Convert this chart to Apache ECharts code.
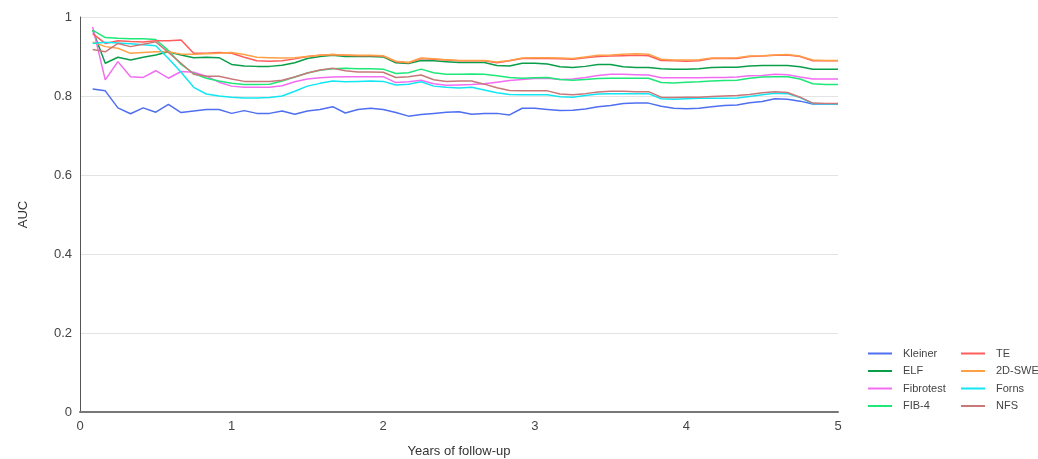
<!DOCTYPE html>
<html><head><meta charset="utf-8">
<script src="https://cdn.jsdelivr.net/npm/echarts@6/dist/echarts.min.js"></script>
<style>html,body{margin:0;padding:0;background:#fff}#c{width:1038px;height:459px}</style>
</head><body><div id="c"></div>
<script>
const months = [1,2,3,4,5,6,7,8,9,10,11,12,13,14,15,16,17,18,19,20,21,22,23,24,25,26,27,28,29,30,
31,32,33,34,35,36,37,38,39,40,41,42,43,44,45,46,47,48,49,50,51,52,53,54,55,56,57,58,59,60];
const xTicks = [0,1,2,3,4,5];
const yTicks = [0,0.2,0.4,0.6,0.8,1];

const kleiner = [0.818,0.813,0.770,0.755,0.770,0.759,0.779,0.758,0.762,0.766,
 0.766,0.756,0.763,0.756,0.756,0.762,0.754,0.762,0.766,0.773,
 0.757,0.766,0.769,0.766,0.758,0.749,0.753,0.756,0.759,0.760,
 0.754,0.756,0.756,0.752,0.769,0.769,0.766,0.763,0.764,0.767,
 0.773,0.776,0.781,0.782,0.782,0.774,0.769,0.768,0.769,0.773,
 0.776,0.777,0.783,0.786,0.793,0.792,0.787,0.780,0.780,0.780];
const elf = [0.967,0.883,0.898,0.891,0.898,0.904,0.912,0.904,0.897,0.898,
 0.897,0.880,0.876,0.875,0.875,0.878,0.884,0.895,0.900,0.903,
 0.900,0.900,0.900,0.899,0.884,0.882,0.890,0.889,0.887,0.885,
 0.885,0.885,0.877,0.876,0.883,0.883,0.881,0.874,0.872,0.875,
 0.880,0.880,0.874,0.872,0.872,0.869,0.868,0.868,0.869,0.872,
 0.873,0.873,0.876,0.877,0.877,0.877,0.874,0.868,0.868,0.868];
const fibrotest = [0.975,0.841,0.887,0.849,0.847,0.864,0.845,0.862,0.860,0.850,
 0.835,0.825,0.822,0.822,0.822,0.826,0.836,0.843,0.846,0.848,
 0.849,0.849,0.849,0.849,0.834,0.836,0.840,0.831,0.827,0.828,
 0.829,0.831,0.835,0.839,0.842,0.844,0.845,0.842,0.843,0.847,
 0.852,0.855,0.855,0.854,0.853,0.846,0.846,0.846,0.846,0.847,
 0.847,0.848,0.851,0.852,0.855,0.854,0.848,0.843,0.843,0.843];
const fib4 = [0.967,0.948,0.946,0.945,0.945,0.943,0.915,0.880,0.857,0.845,
 0.838,0.832,0.829,0.829,0.830,0.838,0.848,0.858,0.865,0.869,
 0.870,0.869,0.869,0.868,0.857,0.859,0.868,0.859,0.855,0.855,
 0.856,0.855,0.851,0.847,0.845,0.846,0.847,0.842,0.840,0.842,
 0.844,0.845,0.845,0.845,0.845,0.834,0.833,0.835,0.836,0.838,
 0.839,0.840,0.845,0.848,0.849,0.849,0.843,0.831,0.829,0.829];
const te = [0.958,0.933,0.940,0.938,0.937,0.940,0.940,0.942,0.908,0.908,
 0.910,0.908,0.898,0.889,0.888,0.889,0.894,0.900,0.903,0.905,
 0.903,0.902,0.902,0.901,0.887,0.884,0.895,0.893,0.891,0.889,
 0.889,0.889,0.884,0.889,0.895,0.895,0.895,0.894,0.893,0.897,
 0.900,0.901,0.902,0.903,0.902,0.890,0.889,0.888,0.889,0.895,
 0.895,0.895,0.900,0.901,0.903,0.904,0.900,0.889,0.889,0.889];
const swe2d = [0.937,0.925,0.921,0.908,0.910,0.912,0.912,0.906,0.906,0.907,
 0.908,0.910,0.905,0.898,0.897,0.896,0.897,0.900,0.903,0.905,
 0.904,0.903,0.903,0.902,0.888,0.885,0.896,0.894,0.892,0.890,
 0.890,0.890,0.886,0.890,0.896,0.897,0.897,0.896,0.895,0.899,
 0.903,0.904,0.906,0.907,0.906,0.893,0.891,0.891,0.892,0.896,
 0.896,0.897,0.901,0.902,0.904,0.905,0.901,0.891,0.890,0.890];
const forns = [0.933,0.936,0.934,0.932,0.930,0.927,0.895,0.860,0.822,0.805,
 0.800,0.797,0.795,0.795,0.796,0.800,0.812,0.825,0.832,0.838,
 0.836,0.837,0.838,0.837,0.828,0.830,0.836,0.825,0.822,0.820,
 0.822,0.815,0.808,0.804,0.803,0.803,0.803,0.798,0.797,0.801,
 0.805,0.806,0.806,0.806,0.806,0.793,0.792,0.793,0.794,0.794,
 0.794,0.795,0.799,0.803,0.807,0.806,0.796,0.781,0.780,0.780];
const nfs = [0.918,0.912,0.933,0.925,0.931,0.937,0.910,0.883,0.855,0.850,
 0.850,0.843,0.837,0.837,0.837,0.840,0.848,0.858,0.866,0.870,
 0.864,0.861,0.861,0.860,0.847,0.849,0.853,0.841,0.837,0.838,
 0.838,0.830,0.821,0.814,0.813,0.813,0.813,0.805,0.803,0.806,
 0.810,0.812,0.812,0.811,0.811,0.797,0.796,0.797,0.797,0.799,
 0.800,0.801,0.804,0.808,0.811,0.809,0.797,0.782,0.781,0.781];

const seriesNames = ['Kleiner','ELF','Fibrotest','FIB-4','TE','2D-SWE','Forns','NFS'];
const seriesData = [kleiner, elf, fibrotest, fib4, te, swe2d, forns, nfs];
const colors = ['#4f6ff0','#0a9e4a','#f26cf2','#1ee878','#ff5c5c','#ffa046','#12e6f2','#c87878'];

const chart = echarts.init(document.getElementById('c'), null, {renderer:'canvas'});
const font = 'Liberation Sans, Arial, sans-serif';
const legendCommon = {
  orient:'vertical', icon:'rect', itemWidth:24, itemHeight:2, itemGap:6.5,
  textStyle:{fontFamily:font, fontSize:11, color:'#444', padding:[0,0,0,6]}, selectedMode:false, padding:0
};
chart.setOption({
  animation:false,
  color: colors,
  grid:{left:80, right:200, top:17, bottom:47, containLabel:false, outerBoundsMode:'none'},
  xAxis:{type:'value', min:0, max:5, interval:1,
    name:'Years of follow-up', nameLocation:'middle', nameGap:33,
    nameTextStyle:{fontFamily:font, fontSize:13, color:'#333'},
    axisLine:{show:true, lineStyle:{color:'#777', width:2}},
    axisTick:{show:false},
    axisLabel:{fontFamily:font, fontSize:13, color:'#444', margin:8},
    splitLine:{show:false}},
  yAxis:{type:'value', min:0, max:1, interval:0.2,
    name:'AUC', nameLocation:'middle', nameGap:50,
    nameTextStyle:{fontFamily:font, fontSize:13, color:'#333'},
    axisLine:{show:true, lineStyle:{color:'#555', width:1}},
    axisTick:{show:false},
    axisLabel:{fontFamily:font, fontSize:13, color:'#444', margin:8,
      formatter:v => String(Math.round(v*10)/10)},
    splitLine:{show:true, lineStyle:{color:'#e3e3e3', width:1}}},
  legend:[
    Object.assign({left:868, top:348, data:seriesNames.slice(0,4)}, legendCommon),
    Object.assign({left:961, top:348, data:seriesNames.slice(4)}, legendCommon)
  ],
  series: seriesNames.map((n,i)=>({
    name:n, type:'line', showSymbol:false, symbol:'none',
    lineStyle:{width:1.5}, z: 2,
    data: months.map((m,k)=>[m/12, seriesData[i][k]])
  }))
});
</script></body></html>
